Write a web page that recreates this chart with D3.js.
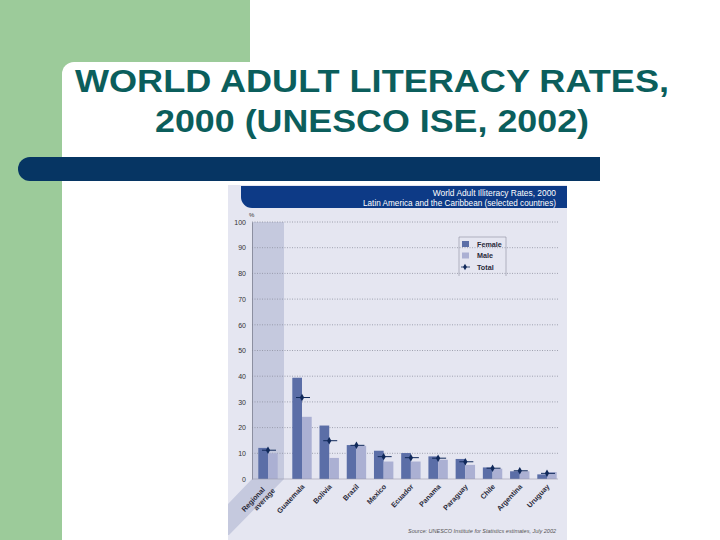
<!DOCTYPE html>
<html lang="en">
  <head>
    <meta charset="UTF-8">
    <title>World Adult Literacy Rates</title>
    <script src="https://cdn.jsdelivr.net/npm/d3@7"></script>
    <style>
      body { margin: 0; background: #fff; }
      svg { display: block; font-family: "Liberation Sans", Arial, sans-serif; }
      .grid line { stroke: #8e90a0; stroke-dasharray: 1,1.5; stroke-width: 0.8; }
      .tick-label { font-size: 7px; fill: #333; }
      .cat-label { font-size: 7.2px; fill: #2a2a3a; font-weight: bold; }
    </style>
  </head>
  <body>
    <svg id="slide" width="720" height="540"></svg>

    <script>
      // values (illiteracy, %)
      var regionalLabel = "Regional average";
      var regionalFemale = 12.1, regionalMale = 10.0, regionalTotal = 11.2;

      var countries = ["Guatemala", "Bolivia", "Brazil", "Mexico", "Ecuador",
                       "Panama", "Paraguay", "Chile", "Argentina", "Uruguay"];
      var female = [39.4, 20.8, 13.2, 11.0, 10.1, 8.8, 7.8, 4.5, 3.0, 1.8];
      var male   = [24.2,  8.2, 12.9,  6.8,  6.8, 7.5, 5.5, 4.0, 3.0, 2.7];
      var total  = [31.7, 14.9, 13.1,  8.7,  8.3, 8.1, 6.7, 4.2, 3.2, 2.2];

      var yTicks = [0, 10, 20, 30, 40, 50, 60, 70, 80, 90, 100];
      var seriesNames = ["Female", "Male", "Total"];
      var colors = { Female: "#5b6ea7", Male: "#abb0d3", Total: "#10295a" };

      var rows = [{ name: regionalLabel, Female: regionalFemale, Male: regionalMale, Total: regionalTotal }]
        .concat(countries.map(function(c, i) {
          return { name: c, Female: female[i], Male: male[i], Total: total[i] };
        }));

      var svg = d3.select("#slide");

      // slide frame
      svg.append("rect").attr("x", 0).attr("y", 0).attr("width", 250).attr("height", 90).attr("fill", "#9ccb9a");
      svg.append("rect").attr("x", 0).attr("y", 0).attr("width", 62).attr("height", 540).attr("fill", "#9ccb9a");
      svg.append("rect").attr("x", 62).attr("y", 62).attr("width", 700).attr("height", 520).attr("rx", 12).attr("fill", "#fff");

      var title = svg.append("text")
          .attr("x", 372).attr("text-anchor", "middle")
          .attr("fill", "#0b5e5c").attr("font-size", 31).attr("font-weight", "bold");
      title.append("tspan").attr("x", 372).attr("y", 92)
          .attr("textLength", 594).attr("lengthAdjust", "spacingAndGlyphs")
          .text("WORLD ADULT LITERACY RATES,");
      title.append("tspan").attr("x", 372).attr("y", 132)
          .attr("textLength", 434).attr("lengthAdjust", "spacingAndGlyphs")
          .text("2000 (UNESCO ISE, 2002)");

      svg.append("path")
          .attr("d", "M30,157 H600 V181 H30 A12,12 0 0 1 18,169 A12,12 0 0 1 30,157 Z")
          .attr("fill", "#063563");

      // chart panel
      var panel = svg.append("g");
      panel.append("rect").attr("x", 228).attr("y", 185).attr("width", 339).attr("height", 355).attr("fill", "#e5e6f1");
      panel.append("path")
          .attr("d", "M241,186 H567 V208 H252 A11,11 0 0 1 241,197 Z")
          .attr("fill", "#0d3a86");
      panel.append("text").attr("x", 556).attr("y", 196).attr("text-anchor", "end")
          .attr("fill", "#fff").attr("font-size", 8.4).text("World Adult Illiteracy Rates, 2000");
      panel.append("text").attr("x", 556).attr("y", 205.5).attr("text-anchor", "end")
          .attr("fill", "#fff").attr("font-size", 8.2).text("Latin America and the Caribbean (selected countries)");

      var y = d3.scaleLinear().domain([0, 100]).range([479, 222]);
      var xLeft = 252, xRight = 558;

      var xReg = d3.scalePoint().domain([regionalLabel]).range([252, 284]).padding(0.5);
      var xCountry = d3.scalePoint().domain(countries).range([302, 547]);
      function xc(d) { return d.name === regionalLabel ? xReg(d.name) : xCountry(d.name); }
      var xSub = d3.scaleBand().domain(["Female", "Male"]).range([-9.7, 9.7]);

      // shaded band for regional average
      panel.append("path")
          .attr("d", "M" + xReg.range()[0] + "," + y(100) + " H" + xReg.range()[1] + " V" + y(0) +
                " L229,535 L228,535 L228,504 L" + xReg.range()[0] + "," + y(0) + " Z")
          .attr("fill", "#c5c9de");

      // gridlines
      panel.append("g").attr("class", "grid")
        .selectAll("line").data(yTicks.filter(function(t) { return t > 0; }))
        .enter().append("line")
          .attr("x1", xLeft).attr("x2", xRight)
          .attr("y1", function(d) { return y(d); }).attr("y2", function(d) { return y(d); });

      // y axis
      var yAxis = d3.axisLeft(y).tickValues(yTicks).tickSize(0).tickPadding(6);
      var ya = panel.append("g").attr("transform", "translate(" + xLeft + ",0)").call(yAxis);
      ya.select(".domain").attr("stroke", "#7d8090").attr("stroke-width", 0.8);
      ya.selectAll("text").attr("class", "tick-label").attr("font-family", null).attr("font-size", null);
      panel.append("text").attr("x", 249).attr("y", 217).attr("font-size", 6).attr("fill", "#333").text("%");

      // bars
      var groups = panel.selectAll(".grp").data(rows).enter().append("g")
          .attr("class", "grp")
          .attr("transform", function(d) { return "translate(" + xc(d) + ",0)"; });

      groups.selectAll("rect").data(function(d) {
          return ["Female", "Male"].map(function(k) { return { key: k, value: d[k] }; });
        }).enter().append("rect")
          .attr("x", function(d) { return xSub(d.key); })
          .attr("width", xSub.bandwidth())
          .attr("y", function(d) { return y(d.value); })
          .attr("height", function(d) { return y(0) - y(d.value); })
          .attr("fill", function(d) { return colors[d.key]; });

      // total markers
      groups.append("line")
          .attr("x1", -6).attr("x2", 8)
          .attr("y1", function(d) { return y(d.Total); }).attr("y2", function(d) { return y(d.Total); })
          .attr("stroke", colors.Total).attr("stroke-width", 1);
      groups.append("path")
          .attr("d", d3.symbol().type(d3.symbolDiamond).size(16))
          .attr("transform", function(d) { return "translate(0," + y(d.Total) + ")"; })
          .attr("fill", colors.Total);

      // x baseline
      panel.append("line").attr("x1", xLeft).attr("x2", xRight)
          .attr("y1", y(0)).attr("y2", y(0)).attr("stroke", "#9a9cac").attr("stroke-width", 0.6);

      // category labels
      groups.each(function(d) {
        var g = d3.select(this);
        var t = g.append("text").attr("class", "cat-label")
            .attr("text-anchor", "end")
            .attr("transform", "translate(3," + (y(0) + 8) + ") rotate(-47)");
        if (d.name === regionalLabel) {
          t.append("tspan").attr("x", -6).attr("dy", -2).text("Regional");
          t.append("tspan").attr("x", 0).attr("dy", 8).text("average");
        } else {
          t.text(d.name);
        }
      });

      // legend
      var lg = panel.append("g").attr("transform", "translate(459,237)");
      lg.append("path").attr("d", "M0,39 V0 H47 V39").attr("fill", "none")
          .attr("stroke", "#8c8ea0").attr("stroke-width", 0.6);
      seriesNames.forEach(function(s, i) {
        var row = lg.append("g").attr("transform", "translate(0," + (7 + i * 11.5) + ")");
        if (s === "Total") {
          row.append("line").attr("x1", 2).attr("x2", 11).attr("y1", 0).attr("y2", 0)
              .attr("stroke", colors.Total).attr("stroke-width", 0.8);
          row.append("path").attr("d", d3.symbol().type(d3.symbolDiamond).size(12))
              .attr("transform", "translate(6,0)").attr("fill", colors.Total);
        } else {
          row.append("rect").attr("x", 3).attr("y", -3).attr("width", 7).attr("height", 6)
              .attr("fill", colors[s]);
        }
        row.append("text").attr("x", 18).attr("y", 2.5).attr("font-size", 7.2)
            .attr("font-weight", "bold").attr("fill", "#2a2a3a").text(s);
      });

      // source
      panel.append("text").attr("x", 556).attr("y", 533).attr("text-anchor", "end")
          .attr("font-size", 5.5).attr("font-style", "italic").attr("fill", "#555")
          .text("Source: UNESCO Institute for Statistics estimates, July 2002");
    </script>
  </body>
</html>
